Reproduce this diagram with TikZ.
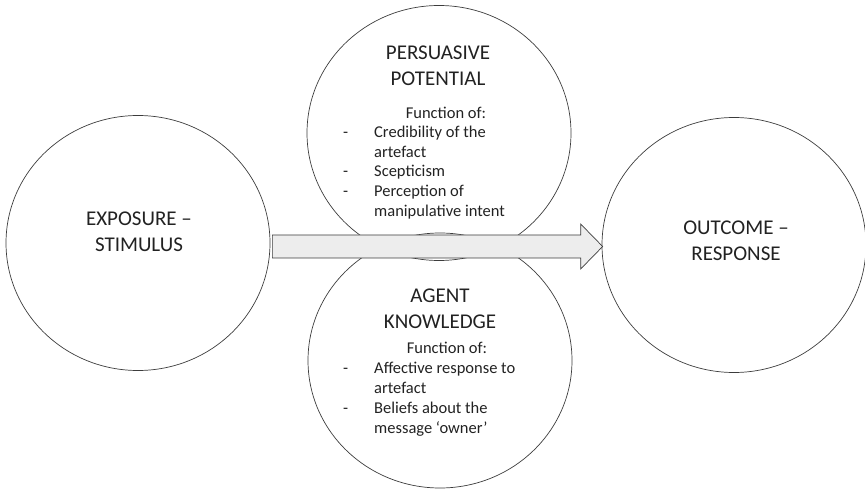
\documentclass[tikz,border=0pt]{standalone}
\usepackage{fontspec}
\setmainfont{Carlito}
\usetikzlibrary{shapes.geometric,calc}

\definecolor{linegray}{HTML}{3C3C3C}
\definecolor{arrowfill}{HTML}{EDEDED}
\definecolor{textgray}{HTML}{222222}

\tikzset{
  stage/.style={ellipse, draw=linegray, line width=0.7pt, minimum width=264pt, minimum height=255pt, inner sep=0pt},
  heading/.style={anchor=base, text=textgray, font=\fontsize{21}{26}\selectfont, inner sep=0pt},
  caption/.style={anchor=base, text=textgray, font=\fontsize{16.5}{20}\selectfont, inner sep=0pt},
  detail/.style={anchor=base west, text=textgray, font=\fontsize{16.5}{20}\selectfont, inner sep=0pt},
  blockarrow/.style={draw=linegray, fill=arrowfill, line width=0.7pt, line join=miter},
}

\begin{document}
\begin{tikzpicture}[x=1pt, y=-1pt]
    \useasboundingbox (0,0) rectangle (865,489);

    % the four stages
    \node[stage] (expo) at (138,243) {};
    \node[stage] (persu) at (439,133) {};
    \node[stage] (agent) at (440,360.5) {};
    \node[stage] (outc) at (734,245) {};

    % block arrow from exposure to outcome
    \path (expo.east) ++(2,3.5) coordinate (tail);
    \path (outc.west) ++(1,1.5) coordinate (tip);
    \draw[blockarrow] ($(tail)+(0,-11.5)$) -- ($(tip)+(-22,-11.5)$) -- ($(tip)+(-22,-22.5)$) -- (tip)
        -- ($(tip)+(-22,22.5)$) -- ($(tip)+(-22,11.5)$) -- ($(tail)+(0,11.5)$) -- cycle;

    % exposure
    \node[heading] (expo-a) at (139,226) {EXPOSURE –};
    \node[heading] (expo-b) at (139,252) {STIMULUS};

    % outcome
    \node[heading] (outc-a) at (736,235) {OUTCOME –};
    \node[heading] (outc-b) at (736,261) {RESPONSE};

    % persuasive potential
    \node[heading] (persu-a) at (438,60) {PERSUASIVE};
    \node[heading] (persu-b) at (438,86) {POTENTIAL};
    \node[caption] (persu-f) at (446,119) {Function of:};
    \node[detail] (persu-d1) at (343,138) {-};
    \node[detail] (persu-t1) at (374,138) {Credibility of the};
    \node[detail] (persu-t2) at (374,158) {artefact};
    \node[detail] (persu-d2) at (343,177) {-};
    \node[detail] (persu-t3) at (374,177) {Scepticism};
    \node[detail] (persu-d3) at (343,197) {-};
    \node[detail] (persu-t4) at (374,197) {Perception of};
    \node[detail] (persu-t5) at (374,217) {manipulative intent};

    % agent knowledge
    \node[heading] (agent-a) at (440,302) {AGENT};
    \node[heading] (agent-b) at (440,328) {KNOWLEDGE};
    \node[caption] (agent-f) at (447,353) {Function of:};
    \node[detail] (agent-d1) at (343,373) {-};
    \node[detail] (agent-t1) at (374,373) {Affective response to};
    \node[detail] (agent-t2) at (374,393) {artefact};
    \node[detail] (agent-d2) at (343,413) {-};
    \node[detail] (agent-t3) at (374,413) {Beliefs about the};
    \node[detail] (agent-t4) at (374,433) {message ‘owner’};
\end{tikzpicture}
\end{document}
